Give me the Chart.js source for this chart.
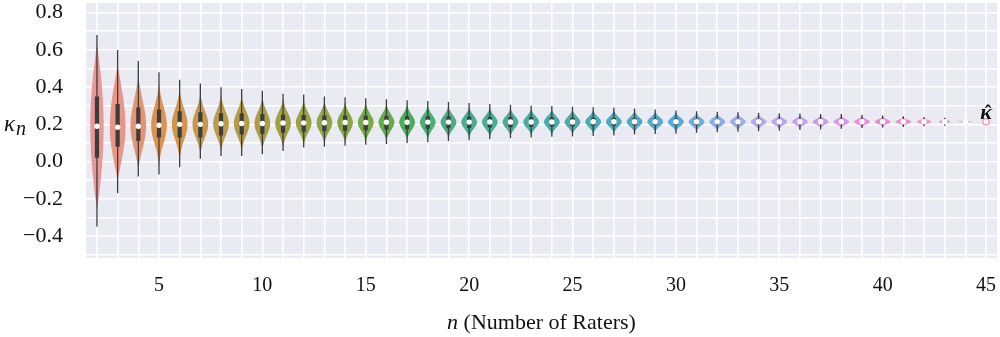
<!DOCTYPE html>
<html><head><meta charset="utf-8">
<script src="https://cdn.jsdelivr.net/npm/chart.js@4.4.0/dist/chart.umd.min.js"></script>
<style>html,body{margin:0;padding:0;background:#fff}#c{display:block}</style>
</head><body>
<canvas id="c" width="1000" height="337"></canvas>
<script>
// ---------- data ----------
const nRaters = [2,3,4,5,6,7,8,9,10,11,12,13,14,15,16,17,18,19,20,21,22,23,24,25,26,27,28,29,30,31,32,33,34,35,36,37,38,39,40,41,42,43,44,45];
const medianK = [0.19,0.185,0.19,0.195,0.20,0.20,0.203,0.205,0.205,0.207,0.208,0.209,0.21,0.21,0.211,0.211,0.212,0.212,0.212,0.213,0.213,0.213,0.213,0.213,0.214,0.214,0.214,0.214,0.214,0.214,0.214,0.214,0.214,0.214,0.214,0.214,0.214,0.214,0.214,0.214,0.214,0.214,0.214,0.214];
const q1K = [0.02,0.08,0.11,0.13,0.13,0.13,0.14,0.145,0.148,0.155,0.16,0.163,0.166,0.169,0.172,0.175,0.177,0.179,0.181,0.183,0.185,0.187,0.189,0.19,0.192,0.193,0.195,0.196,0.197,0.198,0.199,0.2,0.201,0.202,0.203,0.204,0.205,0.206,0.207,0.208,0.209,0.21,0.212,0.214];
const q3K = [0.35,0.31,0.29,0.28,0.27,0.265,0.26,0.258,0.255,0.252,0.25,0.248,0.247,0.246,0.245,0.244,0.243,0.242,0.241,0.24,0.239,0.238,0.237,0.236,0.235,0.234,0.233,0.232,0.231,0.23,0.229,0.228,0.227,0.226,0.225,0.224,0.223,0.222,0.221,0.22,0.219,0.218,0.216,0.214];
const whiskerLow = [-0.35,-0.17,-0.08,-0.07,-0.03,0.015,0.03,0.03,0.04,0.057,0.075,0.08,0.085,0.09,0.095,0.10,0.105,0.11,0.115,0.12,0.125,0.13,0.133,0.135,0.138,0.14,0.145,0.148,0.15,0.155,0.158,0.16,0.163,0.165,0.17,0.173,0.176,0.18,0.183,0.186,0.19,0.193,0.207,0.214];
const whiskerHigh = [0.68,0.60,0.54,0.48,0.44,0.42,0.40,0.39,0.38,0.365,0.36,0.35,0.345,0.34,0.335,0.33,0.325,0.32,0.315,0.31,0.305,0.30,0.298,0.295,0.292,0.29,0.285,0.28,0.275,0.27,0.268,0.265,0.262,0.26,0.258,0.256,0.255,0.252,0.248,0.244,0.24,0.235,0.222,0.214];
const violinTop = [0.63,0.52,0.46,0.42,0.39,0.37,0.36,0.355,0.35,0.34,0.333,0.326,0.32,0.315,0.31,0.306,0.302,0.298,0.294,0.29,0.287,0.284,0.282,0.28,0.278,0.276,0.273,0.27,0.266,0.262,0.26,0.258,0.255,0.253,0.251,0.249,0.247,0.245,0.242,0.239,0.236,0.232,0.219,0.214];
const violinBottom = [-0.26,-0.10,-0.04,-0.02,0.01,0.035,0.05,0.055,0.06,0.075,0.09,0.095,0.10,0.105,0.11,0.115,0.12,0.125,0.128,0.132,0.136,0.14,0.143,0.146,0.149,0.152,0.155,0.158,0.16,0.163,0.166,0.168,0.171,0.174,0.177,0.179,0.181,0.184,0.187,0.19,0.193,0.196,0.209,0.214];
const violinDensity = [0.85,1,1,1,1,1,1,1,1,1,1,1,1,1,1,1,1,1,1,1,1,1,1,1,1,1,1,1,1,1,1,1,1,1,1,1,1,1,1,1,0.9,0.7,1,0];
const violinPeakedness = [0.6,1.2,2.0,2.6,2.8,2.8,2.8,2.8,2.8,2.8,2.8,2.8,2.8,2.8,2.8,2.8,2.8,2.8,2.8,2.8,2.8,2.8,2.8,2.8,2.8,2.8,2.8,2.8,2.8,2.8,2.8,2.8,2.8,2.8,2.8,2.8,2.8,2.8,2.8,2.8,2.8,2.8,2.8,2.8];
const yTickValues = [-0.5,-0.4,-0.3,-0.2,-0.1,0,0.1,0.2,0.3,0.4,0.5,0.6,0.7,0.8];
const xTickValues = nRaters;
const xLabelValues = [5,10,15,20,25,30,35,40,45];

// ---------- colours: seaborn husl palette, desaturated 0.75 ----------
function huslToRgb(h, s, l) {
  const m = [[3.2406,-1.5372,-0.4986],[-0.9689,1.8758,0.0415],[0.0557,-0.2040,1.0570]];
  const refU = 0.19784, refV = 0.46834, labE = 0.008856, labK = 903.3;
  const hr = h * Math.PI / 180, sinH = Math.sin(hr), cosH = Math.cos(hr);
  const sub1 = Math.pow(l + 16, 3) / 1560896, sub2 = sub1 > 0.008856 ? sub1 : l / 903.3;
  let mx = Infinity;
  for (const [m1, m2, m3] of m) {
    const top = (0.99915*m1 + 1.05122*m2 + 1.14460*m3) * sub2;
    const rb = 0.86330*m3 - 0.17266*m2, lb = 0.12949*m3 - 0.38848*m1;
    const bottom = (rb*sinH + lb*cosH) * sub2;
    for (const t of [0, 1]) {
      const C = l * (top - 1.05122*t) / (bottom + 0.17266*sinH*t);
      if (C > 0 && C < mx) mx = C;
    }
  }
  const C = mx / 100 * s;
  const U = cosH * C, V = sinH * C;
  const fInv = t => Math.pow(t,3) > labE ? Math.pow(t,3) : (116*t - 16) / labK;
  const Y = fInv((l + 16) / 116);
  const vu = U / (13*l) + refU, vv = V / (13*l) + refV;
  const X = 0 - (9*Y*vu) / ((vu - 4)*vv - vu*vv);
  const Z = (9*Y - 15*vv*Y - vv*X) / (3*vv);
  return m.map(r => r[0]*X + r[1]*Y + r[2]*Z)
          .map(c => c <= 0.0031308 ? 12.92*c : 1.055*Math.pow(c, 1/2.4) - 0.055)
          .map(c => Math.min(1, Math.max(0, c)));
}
function rgbToHls(r, g, b) {
  const mx = Math.max(r,g,b), mn = Math.min(r,g,b), l = (mx+mn)/2;
  if (mx === mn) return [0, l, 0];
  const d = mx - mn, s = l <= 0.5 ? d/(mx+mn) : d/(2-mx-mn);
  let h;
  if (mx === r) h = ((g-b)/d) % 6; else if (mx === g) h = (b-r)/d + 2; else h = (r-g)/d + 4;
  h /= 6; if (h < 0) h += 1;
  return [h, l, s];
}
function hlsToRgb(h, l, s) {
  if (s === 0) return [l,l,l];
  const q = l < 0.5 ? l*(1+s) : l + s - l*s, p = 2*l - q;
  const f = t => { if (t<0) t+=1; if (t>1) t-=1; if (t<1/6) return p+(q-p)*6*t; if (t<1/2) return q; if (t<2/3) return p+(q-p)*(2/3-t)*6; return p; };
  return [f(h+1/3), f(h), f(h-1/3)];
}
const NC = nRaters.length;
const palette = [];
for (let i = 0; i < NC; i++) {
  const hue = (((i + 1) / (NC + 1)) + 0.01) % 1 * 359;
  const [r,g,b] = huslToRgb(hue, 0.9*99, 0.7*99);
  const [h,l,s] = rgbToHls(r,g,b);
  const c = hlsToRgb(h, l, s*0.75);
  palette.push('rgb(' + c.map(v => Math.round(v*255)).join(',') + ')');
}
const gray = '#3d3d3d';

// ---------- datasets ----------
const HALF = 0.38;
const datasets = [];
nRaters.forEach((n, i) => {
  if (violinTop[i] <= violinBottom[i]) return;
  const med = medianK[i], top = violinTop[i], bot = violinBottom[i];
  const w = HALF * violinDensity[i], a = violinPeakedness[i];
  const prof = t => Math.max(0, Math.exp(-a*t*t) - Math.exp(-a)*t*t);
  const steps = 40, right = [], left = [];
  for (let k = 0; k <= steps; k++) {
    const y = bot + (top - bot) * k / steps;
    const t = y >= med ? (top > med ? (y - med)/(top - med) : 1) : (med - y)/(med - bot);
    const f = prof(Math.min(1, t));
    right.push({x: n + w*f, y});
    left.unshift({x: n - w*f, y});
  }
  datasets.push({
    type: 'line', data: right.concat(left), showLine: true, fill: false, violin: true,
    backgroundColor: palette[i], borderColor: palette[i], borderWidth: 0,
    pointRadius: 0, tension: 0, order: 10
  });
});
const whiskerData = [], boxData = [];
nRaters.forEach((n, i) => {
  whiskerData.push({x: n, y: whiskerLow[i]}, {x: n, y: whiskerHigh[i]}, {x: n, y: null});
  boxData.push({x: n, y: q1K[i]}, {x: n, y: q3K[i]}, {x: n, y: null});
});
datasets.push({type:'line', data: whiskerData, showLine:true, spanGaps:false, borderColor: gray, borderWidth: 1.3, pointRadius: 0, fill:false, order: 3});
datasets.push({type:'line', data: boxData, showLine:true, spanGaps:false, borderColor: gray, borderWidth: 4.2, borderCapStyle:'butt', pointRadius: 0, fill:false, order: 2});
datasets.push({type:'scatter', data: nRaters.slice(0, NC-1).map((n,i) => ({x:n, y:medianK[i]})),
  pointRadius: 2.7, pointBackgroundColor:'#ffffff', pointBorderWidth:0, order: 1});
datasets.push({type:'scatter', data: [{x: nRaters[NC-1], y: medianK[NC-1]}],
  pointRadius: 3.2, pointBackgroundColor:'#ffffff', pointBorderColor: palette[NC-1], pointBorderWidth: 1.3, order: 0});

// ---------- plugins ----------
const bgPlugin = {
  id: 'bg',
  beforeDraw(chart) {
    const {ctx, chartArea: a} = chart;
    ctx.save(); ctx.fillStyle = '#EAEAF2';
    ctx.fillRect(a.left, a.top, a.right - a.left, a.bottom - a.top);
    ctx.restore();
  },
  // fill each violin outline (points positioned by Chart.js scales)
  beforeDatasetsDraw(chart) {
    const {ctx, chartArea: a} = chart;
    ctx.save();
    ctx.beginPath(); ctx.rect(a.left, a.top, a.right - a.left, a.bottom - a.top); ctx.clip();
    chart.data.datasets.forEach((ds, di) => {
      if (!ds.violin) return;
      const pts = chart.getDatasetMeta(di).data;
      if (!pts.length) return;
      ctx.beginPath();
      ctx.moveTo(pts[0].x, pts[0].y);
      for (let k = 1; k < pts.length; k++) ctx.lineTo(pts[k].x, pts[k].y);
      ctx.closePath();
      ctx.fillStyle = ds.backgroundColor;
      ctx.fill();
    });
    ctx.restore();
  }
};
const textPlugin = {
  id: 'texts',
  afterDraw(chart) {
    const {ctx, chartArea: a} = chart;
    const xs = chart.scales.x, ys = chart.scales.y;
    ctx.save();
    ctx.fillStyle = '#111';
    ctx.textBaseline = 'alphabetic';
    // y-axis title: kappa_n
    ctx.textAlign = 'left';
    ctx.font = 'italic 23px "Liberation Serif"';
    ctx.fillText('\u03BA', 4, 131);
    ctx.font = 'italic 20px "Liberation Serif"';
    ctx.fillText('n', 16, 135);
    // x-axis title: n (Number of Raters)
    const f1 = 'italic 22px "Liberation Serif"', f2 = '22px "Liberation Serif"';
    const t1 = 'n', t2 = ' (Number of Raters)';
    ctx.font = f1; const w1 = ctx.measureText(t1).width;
    ctx.font = f2; const w2 = ctx.measureText(t2).width;
    const cx = (a.left + a.right) / 2, x0 = cx - (w1 + w2) / 2;
    ctx.font = f1; ctx.fillText(t1, x0, 329);
    ctx.font = f2; ctx.fillText(t2, x0 + w1, 329);
    // kappa hat label next to the last point
    const px = xs.getPixelForValue(nRaters[NC-1]);
    const py = ys.getPixelForValue(medianK[NC-1]);
    ctx.textAlign = 'center';
    ctx.font = 'bold italic 22px "Liberation Serif"';
    ctx.fillText('\u03BA', px, py - 3);
    ctx.font = 'bold 20px "Liberation Serif"';
    ctx.fillText('\u02C6', px + 2, py - 2);
    ctx.restore();
  }
};
const noPad = s => { s.paddingTop = 0; s.paddingBottom = 0; s.paddingLeft = 0; s.paddingRight = 0; };

new Chart(document.getElementById('c'), {
  type: 'scatter',
  data: { datasets },
  plugins: [bgPlugin, textPlugin],
  options: {
    responsive: false, animation: false, devicePixelRatio: 1,
    layout: { autoPadding: false, padding: { top: 3, right: 3, left: 0, bottom: 0 } },
    plugins: { legend: { display: false }, tooltip: { enabled: false } },
    scales: {
      x: {
        type: 'linear', min: 1.47, max: 45.53,
        afterBuildTicks: s => { s.ticks = xTickValues.map(v => ({value: v})); },
        afterFit: s => { s.height = 79; noPad(s); },
        grid: { color: '#ffffff', lineWidth: 1.6, drawTicks: false },
        border: { display: false },
        ticks: {
          padding: 16, color: '#111', maxRotation: 0, autoSkip: false,
          font: { family: '"Liberation Serif"', size: 20 },
          callback: v => xLabelValues.includes(v) ? String(v) : ''
        }
      },
      y: {
        type: 'linear', min: -0.518, max: 0.852,
        afterBuildTicks: s => { s.ticks = yTickValues.map(v => ({value: v})); },
        afterFit: s => { s.width = 86; noPad(s); },
        grid: { color: '#ffffff', lineWidth: 1.6, drawTicks: false },
        border: { display: false },
        ticks: {
          padding: 23, color: '#111', autoSkip: false,
          font: { family: '"Liberation Serif"', size: 22 },
          callback: v => {
            const k = Math.round(v * 10);
            if (k % 2 !== 0 || k < -4) return '';
            return (k / 10).toFixed(1).replace('-', '\u2212');
          }
        }
      }
    }
  }
});
</script>
</body></html>
